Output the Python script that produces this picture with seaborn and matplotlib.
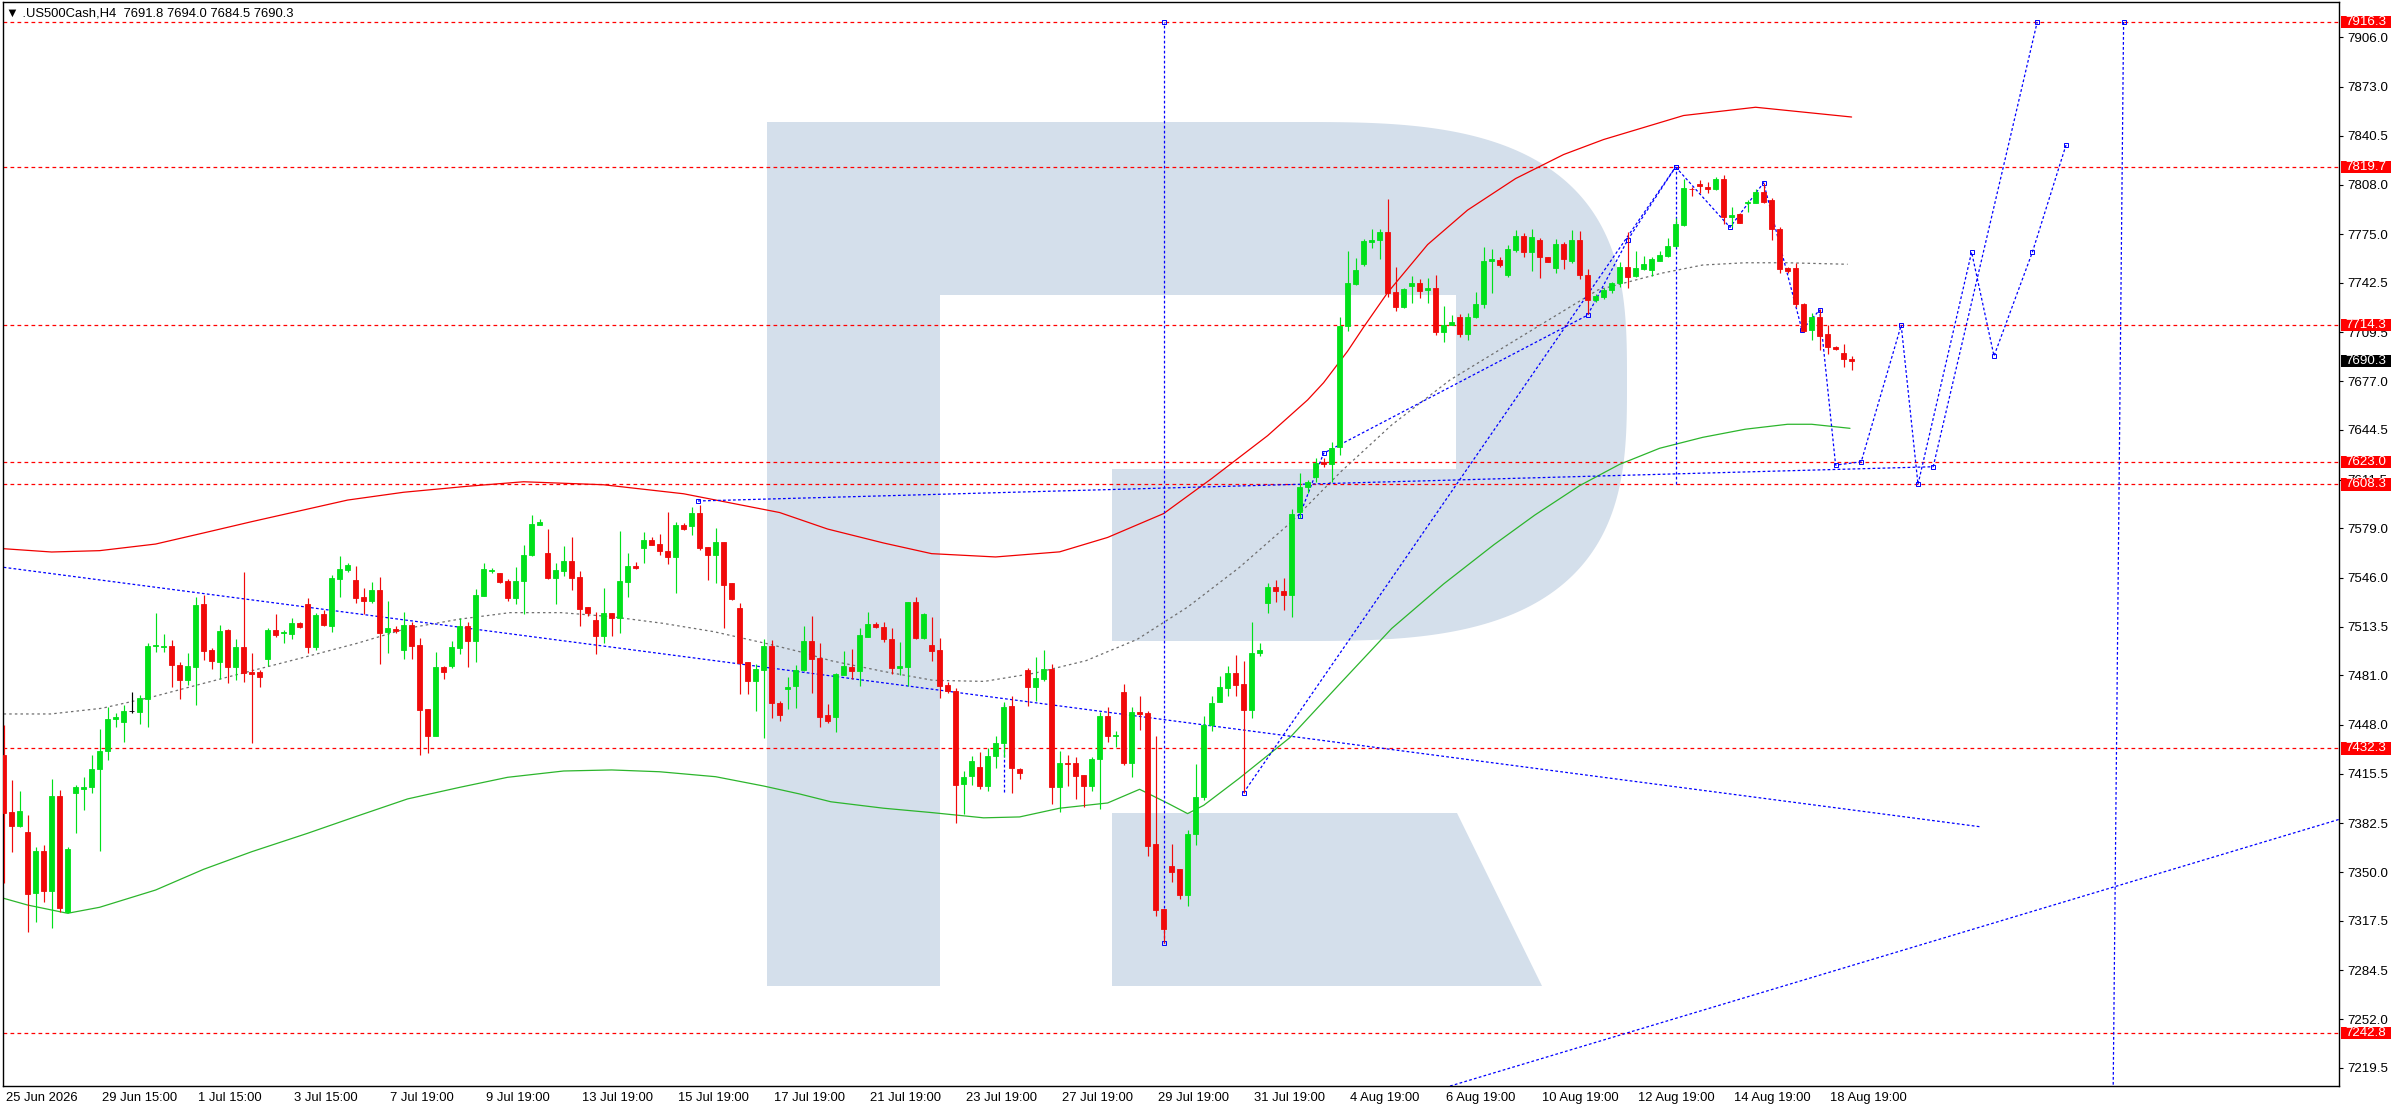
import numpy as np
import pandas as pd
import matplotlib
matplotlib.use("Agg")
import matplotlib.pyplot as plt
import matplotlib.transforms as mtrans
from matplotlib.patches import Polygon, Rectangle
import seaborn as sns

# ---------------- data ----------------
opens = [7428.0,7389.8,7380.9,7376.7,7336.3,7364.3,7337.6,7400.9,7323.2,7402.4,7405.1,7406.5,7418.4,7430.7,7451.8,7450.2,7457.1,7456.9,7465.5,7500.4,
7499.7,7500.6,7488.0,7478.2,7486.9,7528.6,7498.0,7490.2,7511.3,7486.9,7500.2,7483.1,7483.3,7492.2,7511.3,7509.1,7508.8,7515.9,7528.4,7500.2,
7521.9,7514.2,7545.5,7551.5,7544.6,7533.0,7530.8,7537.9,7510.2,7511.9,7498.2,7514.4,7501.1,7458.6,7440.9,7486.4,7487.5,7499.5,7513.9,7503.7,
7534.2,7550.8,7549.0,7543.7,7532.6,7543.7,7561.0,7581.2,7562.4,7546.1,7550.8,7557.3,7546.4,7526.6,7517.9,7507.5,7522.4,7519.1,7543.5,7553.9,
7566.1,7571.2,7568.8,7563.9,7560.1,7581.5,7580.8,7589.5,7566.4,7561.2,7569.9,7542.4,7525.7,7489.7,7477.5,7484.9,7500.8,7462.4,7472.2,7474.2,
7484.4,7503.9,7492.7,7454.7,7453.5,7481.3,7486.8,7483.7,7506.8,7515.1,7513.0,7505.1,7485.6,7486.8,7529.6,7505.6,7501.5,7498.0,7474.7,7470.6,
7408.8,7414.2,7419.9,7407.6,7427.1,7436.1,7460.6,7418.8,7484.4,7473.0,7478.9,7485.4,7406.4,7422.8,7422.3,7414.7,7407.1,7425.4,7454.0,7440.4,
7469.9,7422.3,7456.3,7456.1,7368.8,7325.5,7354.0,7351.7,7335.0,7375.0,7399.9,7448.0,7463.5,7472.3,7482.5,7475.4,7458.2,7495.6,7528.9,7540.1,
7537.2,7534.8,7589.6,7606.7,7613.3,7622.9,7621.6,7632.9,7713.9,7741.5,7754.8,7769.9,7771.0,7776.4,7736.2,7726.2,7740.6,7742.2,7737.7,7739.3,
7710.0,7714.4,7719.5,7708.2,7719.5,7728.4,7757.0,7757.7,7747.7,7764.4,7773.7,7763.3,7771.0,7759.5,7752.2,7768.1,7757.3,7771.0,7747.5,7731.1,
7733.3,7737.7,7742.2,7752.8,7747.0,7751.5,7751.0,7757.0,7760.4,7767.0,7781.0,7805.0,7808.1,7806.6,7805.0,7811.5,7786.6,7788.4,7795.5,7795.9,
7803.2,7797.7,7778.1,7752.2,7752.2,7728.2,7711.1,7719.9,7708.2,7699.5,7696.0,7691.8]
highs = [7448.0,7411.3,7404.0,7388.0,7366.9,7368.0,7412.0,7404.7,7366.9,7408.0,7413.6,7428.0,7445.1,7460.2,7455.8,7461.3,7470.2,7468.0,7502.4,7522.4,
7508.6,7504.6,7490.2,7495.7,7533.5,7534.6,7499.1,7514.4,7512.2,7505.1,7550.1,7496.2,7484.6,7512.8,7521.7,7511.3,7519.1,7516.4,7532.4,7522.8,
7524.6,7547.7,7560.6,7556.1,7553.9,7539.0,7543.0,7546.4,7530.8,7513.9,7523.0,7516.8,7505.7,7458.6,7496.4,7487.3,7503.9,7519.1,7516.8,7538.4,
7555.7,7552.8,7549.5,7545.0,7553.5,7567.7,7587.9,7585.0,7578.6,7555.7,7567.2,7573.5,7550.6,7526.8,7523.0,7539.5,7522.8,7577.2,7562.8,7556.6,
7576.8,7573.5,7575.0,7590.1,7583.5,7582.8,7593.5,7594.6,7566.8,7579.0,7570.1,7542.8,7529.0,7490.2,7488.6,7505.1,7504.6,7464.0,7480.2,7488.0,
7514.1,7520.6,7502.7,7461.8,7482.5,7497.3,7498.5,7512.7,7522.9,7516.3,7516.3,7512.3,7503.2,7530.1,7532.9,7522.5,7520.1,7505.6,7476.6,7472.3,
7417.1,7427.3,7430.2,7432.5,7440.4,7463.0,7467.0,7419.0,7486.1,7493.2,7498.0,7488.5,7430.6,7427.8,7426.6,7414.7,7426.6,7456.8,7459.9,7444.0,
7475.4,7459.9,7467.0,7457.5,7440.9,7325.5,7368.8,7351.7,7377.8,7421.8,7454.0,7467.5,7480.6,7487.3,7494.4,7490.8,7516.5,7502.7,7542.5,7544.4,
7546.0,7591.9,7615.7,7611.1,7625.6,7625.6,7636.4,7719.9,7763.7,7758.8,7771.7,7778.1,7778.4,7798.4,7752.8,7738.8,7747.0,7744.8,7745.5,7747.7,
7727.1,7721.1,7721.7,7722.2,7736.2,7766.1,7764.8,7759.9,7767.7,7777.7,7775.5,7778.1,7772.1,7759.9,7771.5,7769.9,7777.7,7777.3,7751.7,7735.1,
7739.3,7743.3,7756.6,7776.6,7763.7,7760.4,7759.9,7763.9,7772.1,7785.5,7811.5,7806.1,7811.0,7809.5,7813.2,7814.3,7793.2,7788.8,7797.7,7804.8,
7808.8,7798.8,7779.9,7753.3,7755.5,7728.8,7722.6,7724.8,7714.4,7700.4,7701.7,7694.0]
lows = [7342.5,7363.6,7380.3,7310.3,7317.0,7329.8,7312.9,7323.6,7322.5,7375.8,7391.3,7402.4,7364.3,7424.7,7446.9,7436.9,7455.8,7448.6,7446.9,7496.8,
7496.8,7473.5,7465.3,7474.6,7461.3,7491.3,7485.1,7478.4,7476.2,7478.0,7476.9,7435.8,7473.5,7487.5,7506.8,7502.4,7505.1,7512.4,7496.2,7497.9,
7514.0,7510.2,7533.5,7550.1,7529.5,7521.9,7529.5,7488.6,7496.2,7509.1,7491.9,7492.2,7428.0,7429.5,7440.9,7478.4,7486.0,7495.3,7486.9,7490.0,
7533.9,7549.0,7542.4,7530.4,7528.6,7521.7,7560.6,7581.2,7545.3,7528.6,7547.3,7537.9,7513.9,7520.6,7495.3,7502.4,7507.5,7509.1,7533.5,7551.9,
7556.1,7567.9,7561.2,7555.0,7535.7,7577.9,7574.6,7564.6,7544.6,7542.4,7512.8,7531.3,7468.6,7468.6,7457.3,7439.5,7452.4,7450.9,7458.4,7459.1,
7483.7,7469.4,7446.3,7449.2,7443.3,7481.3,7478.9,7473.7,7506.8,7512.3,7503.4,7482.0,7481.3,7473.7,7505.1,7505.1,7490.8,7465.9,7469.4,7382.6,
7388.5,7408.1,7405.0,7404.0,7419.5,7426.6,7402.8,7412.3,7460.4,7464.2,7477.3,7395.2,7389.7,7407.6,7398.5,7393.3,7404.0,7392.1,7436.6,7433.3,
7421.4,7413.5,7444.4,7360.5,7320.7,7302.9,7343.3,7331.9,7327.2,7368.3,7398.1,7443.7,7463.5,7467.5,7467.5,7402.8,7452.3,7493.7,7522.5,7529.6,
7524.6,7520.1,7586.0,7602.2,7610.0,7619.6,7609.6,7627.8,7710.4,7741.0,7753.9,7765.9,7758.2,7732.8,7723.9,7725.5,7729.3,7732.2,7729.3,7707.7,
7703.3,7714.4,7706.2,7704.4,7718.8,7725.5,7735.5,7753.3,7746.6,7763.3,7759.5,7750.6,7745.9,7756.2,7749.3,7751.7,7755.5,7744.8,7721.7,7729.9,
7731.7,7735.5,7739.9,7738.8,7746.2,7751.0,7747.0,7757.0,7759.9,7766.6,7780.4,7800.6,7802.1,7802.1,7804.3,7781.7,7779.9,7782.1,7789.9,7795.5,
7795.5,7771.0,7749.3,7749.3,7726.6,7709.9,7704.4,7697.7,7695.1,7697.7,7686.6,7684.5]
closes = [7389.6,7380.9,7390.7,7335.4,7364.3,7337.6,7400.9,7326.3,7365.4,7406.5,7406.9,7418.4,7430.7,7452.0,7453.3,7457.3,7457.1,7465.9,7500.6,7501.1,
7500.6,7488.2,7478.2,7487.3,7527.9,7497.5,7490.8,7510.6,7486.9,7500.2,7482.9,7482.0,7480.2,7511.3,7508.2,7509.7,7515.9,7513.5,7500.2,7521.3,
7514.8,7545.9,7551.7,7554.6,7532.8,7530.8,7537.9,7509.5,7512.6,7510.8,7514.4,7500.8,7458.2,7440.9,7486.4,7483.5,7499.9,7513.9,7503.7,7534.6,
7551.7,7551.5,7543.5,7532.8,7543.7,7561.0,7581.9,7583.2,7546.1,7551.3,7557.3,7546.1,7525.3,7522.4,7507.5,7522.4,7519.5,7543.9,7553.9,7552.6,
7571.2,7568.1,7563.9,7560.1,7581.2,7578.4,7589.5,7566.1,7561.2,7569.9,7541.5,7531.9,7489.5,7477.5,7485.3,7500.6,7462.4,7454.6,7473.5,7484.6,
7503.9,7492.0,7453.5,7450.4,7481.8,7487.3,7483.7,7508.0,7515.1,7513.0,7505.1,7485.6,7487.3,7529.6,7505.6,7521.8,7497.3,7474.2,7470.6,7408.3,
7413.5,7424.2,7407.6,7427.3,7436.1,7459.9,7419.0,7415.9,7473.0,7479.4,7485.4,7406.4,7422.8,7421.8,7414.2,7407.1,7425.4,7454.0,7440.4,7441.4,
7422.3,7456.8,7455.6,7367.6,7324.8,7311.9,7350.0,7335.0,7375.5,7399.9,7448.0,7462.8,7473.0,7482.5,7474.9,7458.2,7496.1,7498.0,7539.6,7537.2,
7534.8,7588.8,7606.7,7609.8,7622.2,7621.8,7632.7,7713.9,7742.2,7751.0,7770.6,7771.0,7776.6,7735.9,7726.6,7738.4,7742.2,7737.3,7739.3,7710.0,
7714.4,7716.6,7708.2,7719.5,7728.4,7757.0,7758.4,7754.4,7764.8,7773.7,7763.3,7772.8,7759.5,7756.6,7768.1,7758.2,7771.0,7747.5,7731.1,7733.9,
7737.7,7742.2,7752.8,7746.6,7752.2,7754.8,7758.2,7760.8,7767.0,7781.7,7805.5,7804.8,7807.0,7805.2,7811.5,7786.6,7787.7,7782.6,7796.1,7803.2,
7796.6,7778.1,7751.5,7750.6,7728.2,7710.6,7719.9,7707.3,7699.9,7698.4,7691.5,7690.3]

x_tick_bars = [0, 12, 24, 36, 48, 60, 72, 84, 96, 108, 120, 132, 144, 156, 168, 180, 192, 204, 216, 228]
x_tick_labels = ["25 Jun 2026", "29 Jun 15:00", "1 Jul 15:00", "3 Jul 15:00", "7 Jul 19:00", "9 Jul 19:00",
                 "13 Jul 19:00", "15 Jul 19:00", "17 Jul 19:00", "21 Jul 19:00", "23 Jul 19:00", "27 Jul 19:00",
                 "29 Jul 19:00", "31 Jul 19:00", "4 Aug 19:00", "6 Aug 19:00", "10 Aug 19:00", "12 Aug 19:00",
                 "14 Aug 19:00", "18 Aug 19:00"]
y_ticks = [7906.0, 7873.0, 7840.5, 7808.0, 7775.0, 7742.5, 7709.5, 7677.0, 7644.5, 7611.5, 7579.0,
           7546.0, 7513.5, 7481.0, 7448.0, 7415.5, 7382.5, 7350.0, 7317.5, 7284.5, 7252.0, 7219.5]
levels = [7916.3, 7819.7, 7714.3, 7623.0, 7608.3, 7432.3, 7242.8]
last_price = 7690.3
title_text = "\u25bc .US500Cash,H4  7691.8 7694.0 7684.5 7690.3"

# envelope indicator lines (bar index, price)
upper_bars = [0, 6, 12, 19, 25, 31, 38, 43, 50, 58, 65, 75, 85, 97, 103, 110, 116, 124, 132, 138, 145, 151,
              158, 163, 165, 168, 170, 173, 178, 183, 189, 195, 200, 210, 219, 231]
upper_vals = [7565.4, 7563.2, 7564.1, 7568.5, 7575.9, 7583.4, 7591.8, 7597.8, 7603.0, 7607.0, 7610.0, 7608.0,
              7602.0, 7589.5, 7578.5, 7569.2, 7562.1, 7559.9, 7563.3, 7572.9, 7588.8, 7612.1, 7640.7, 7664.5,
              7676.0, 7697.0, 7713.0, 7736.0, 7768.0, 7791.0, 7812.0, 7828.0, 7838.0, 7854.0, 7859.5, 7853.0]
lower_bars = [0, 3, 8, 12, 19, 25, 31, 38, 44, 50.5, 57, 63, 70, 76, 82, 89, 95, 99.5, 103.4, 110, 116, 122.5,
              127, 132, 138, 142, 145.6, 148, 150, 154.4, 160.8, 167, 173.5, 180, 186.3, 191.4, 197, 202, 207,
              212.4, 217.7, 223, 226, 230.8]
lower_vals = [7332.5, 7328.0, 7322.5, 7326.5, 7338.0, 7351.8, 7363.5, 7375.8, 7386.9, 7398.7, 7406.4, 7413.1,
              7417.3, 7418.0, 7416.8, 7413.5, 7407.3, 7402.0, 7396.8, 7392.5, 7389.6, 7386.1, 7386.7, 7392.5,
              7396.0, 7405.1, 7395.6, 7388.9, 7394.4, 7412.2, 7439.6, 7475.2, 7512.2, 7541.9, 7568.1, 7587.8,
              7607.4, 7621.6, 7632.3, 7639.6, 7645.0, 7648.3, 7648.3, 7645.6]
mid_bars = [0, 5.9, 12.3, 18.7, 25, 31.4, 37.8, 44.2, 50.5, 56.9, 63.3, 69.7, 76, 82.4, 88.8, 95.2, 99.5,
            103.4, 110, 116.2, 122.6, 128.9, 135.3, 141.7, 148, 154.4, 160.8, 167.2, 173.5, 180.8, 191.4,
            199.3, 207.2, 212.4, 217.7, 222.9, 230.5]
mid_vals = [7455.3, 7455.3, 7459.1, 7466.8, 7475.7, 7484.6, 7493.4, 7502.4, 7512.4, 7518.4, 7522.8, 7522.8,
            7520.1, 7515.7, 7510.1, 7502.4, 7496.8, 7490.8, 7483.6, 7477.7, 7477.0, 7482.5, 7490.8, 7505.0,
            7526.5, 7552.6, 7582.4, 7616.9, 7647.8, 7677.8, 7712.2, 7737.8, 7748.9, 7754.4, 7755.9, 7755.9,
            7754.9]

# analyst drawings (bar index, price)
trend_down_bars, trend_down_vals = [0, 247], [7553.0, 7380.2]
trend_up_bars, trend_up_vals = [180.8, 291.9], [7207.4, 7385.0]
flat_bars, flat_vals = [86.8, 241.2], [7597.2, 7620.0]
vert1_bars, vert1_vals = [145, 145], [7302.9, 7916.3]
vert2_bars, vert2_vals = [209, 209], [7608.3, 7819.7]
vert3_bars, vert3_vals = [265.0, 263.7], [7916.3, 7207.4]
small_vert_bars, small_vert_vals = [125, 125], [7403.0, 7463.0]
rise_bars, rise_vals = [155, 209], [7402.8, 7819.7]
wedge_bars = [162, 165, 198, 203, 209]
wedge_vals = [7587.5, 7629.0, 7721.0, 7771.0, 7819.7]
path_bars = [209, 215.8, 220, 224.8, 227, 229, 232.2, 237.2, 239.3, 246, 248.8, 253.6, 257.8]
path_vals = [7819.7, 7779.5, 7809.2, 7711.1, 7724.4, 7621.1, 7623.3, 7714.3, 7608.3, 7763.0, 7693.8, 7763.0, 7834.3]
target_bars, target_vals = [241.2, 254.2], [7620.0, 7916.3]

# ---------------- figure ----------------
W, H = 2396, 1110
sns.set_theme(style="white")
plt.rcParams['font.family'] = ['Liberation Sans', 'DejaVu Sans']
fig = plt.figure(figsize=(W / 100, H / 100), dpi=100)
fig.patch.set_facecolor('white')
L, R, T, B = 3, 2339, 2, 1086
ax = fig.add_axes([L / W, (H - B) / H, (R - L) / W, (B - T) / H])
ax.set_facecolor('white')

px_to_bar = lambda px: (px - 3.6) / 8.0
ax.set_xlim(px_to_bar(L), px_to_bar(R))
scale = 1.501
ax.set_ylim(7916.3 - (B - 22) / scale, 7916.3 + (22 - T) / scale)

# watermark logo, in figure pixels (top-left origin)
pix = mtrans.Affine2D().scale(1 / W, -1 / H).translate(0, 1) + fig.transFigure
wm = '#d4dfeb'
stem = Polygon([(767, 122), (940, 122), (940, 986), (767, 986)], closed=True, transform=pix, fc=wm, ec='none', zorder=0.5)
cx, cy, a, b, n = 1297, 381.5, 330, 259.5, 3.0
t = np.linspace(-np.pi / 2, np.pi / 2, 200)
arc_x = cx + a * np.sign(np.cos(t)) * np.abs(np.cos(t)) ** (2 / n)
arc_y = cy + b * np.sign(np.sin(t)) * np.abs(np.sin(t)) ** (2 / n)
bowl_pts = [(940, 122)] + list(zip(arc_x, arc_y)) + [(1112, 641), (1112, 469), (1456, 469), (1456, 295), (940, 295)]
bowl = Polygon(bowl_pts, closed=True, transform=pix, fc=wm, ec='none', zorder=0.5)
leg = Polygon([(1112, 813), (1457, 813), (1542, 986), (1112, 986)], closed=True, transform=pix, fc=wm, ec='none', zorder=0.5)
for p in (stem, bowl, leg):
    ax.add_patch(p)

# horizontal level lines
for lv in levels:
    ax.axhline(lv, color='#ff0000', lw=0.9, dashes=(3.0, 2.6), zorder=2)

# indicator lines via seaborn
sns.lineplot(x=upper_bars, y=upper_vals, color='#f00000', lw=0.9, ax=ax, sort=False, estimator=None, zorder=2.2)
sns.lineplot(x=lower_bars, y=lower_vals, color='#2cb52c', lw=0.9, ax=ax, sort=False, estimator=None, zorder=2.2)
mid_line = sns.lineplot(x=mid_bars, y=mid_vals, color='#6e6e6e', lw=0.9, ax=ax, sort=False, estimator=None, zorder=2.2)
mid_line.lines[-1].set_dashes((2.0, 2.5))

# blue drawings
blue = '#0000ff'
bkw = dict(color=blue, lw=0.9, dashes=(2.2, 1.8), zorder=2.4)
for xs, ys in [(trend_down_bars, trend_down_vals), (trend_up_bars, trend_up_vals), (flat_bars, flat_vals),
               (vert1_bars, vert1_vals), (vert2_bars, vert2_vals), (vert3_bars, vert3_vals),
               (small_vert_bars, small_vert_vals), (rise_bars, rise_vals), (wedge_bars, wedge_vals),
               (path_bars, path_vals), (target_bars, target_vals)]:
    ax.plot(xs, ys, **bkw)
mk = dict(ls='none', marker='s', ms=2.6, mfc='none', mec=blue, mew=0.7, zorder=2.5)
ax.plot(path_bars, path_vals, **mk)
ax.plot(wedge_bars, wedge_vals, **mk)
ax.plot([vert1_bars[0], vert1_bars[1], rise_bars[0], flat_bars[0], flat_bars[1], target_bars[1], vert3_bars[0]],
        [vert1_vals[0], vert1_vals[1], rise_vals[0], flat_vals[0], flat_vals[1], target_vals[1], vert3_vals[0]], **mk)

# candles
df = pd.DataFrame({'o': opens, 'h': highs, 'l': lows, 'c': closes})
df['bar'] = np.arange(len(df))
cols = np.where(df.c > df.o, '#00e01a', np.where(df.c < df.o, '#f00a0a', '#000000'))
ax.vlines(df.bar, df.l, df.h, colors=cols, lw=0.85, zorder=3)
ax.bar(df.bar, df.c - df.o, bottom=df.o, width=0.56, color=cols, edgecolor=cols, lw=0.6, zorder=4)

# axes styling
for s in ax.spines.values():
    s.set_color('black')
    s.set_linewidth(1.0)
    s.set_visible(True)
ax.grid(False)
ax.yaxis.tick_right()
ax.set_yticks(y_ticks)
ax.set_yticklabels([f"{v:.1f}" for v in y_ticks])
ax.tick_params(axis='y', direction='out', length=3, width=0.8, pad=3, labelsize=9.6, colors='black',
               left=False, right=True)
ax.set_xticks(x_tick_bars)
ax.set_xticklabels(x_tick_labels)
ax.tick_params(axis='x', direction='out', length=3, width=0.8, pad=1.5, labelsize=9.4, colors='black')
offs = mtrans.ScaledTranslation(2 / 100, 0, fig.dpi_scale_trans)
for lab in ax.get_xticklabels():
    lab.set_ha('left')
    lab.set_transform(lab.get_transform() + offs)
ax.set_xlabel('')
ax.set_ylabel('')

# price label boxes on right axis
blend = mtrans.blended_transform_factory(fig.transFigure, ax.transData)
half = 6.2 / scale
for lv in levels:
    ax.add_patch(Rectangle((2341 / W, lv - half), 50 / W, 2 * half, transform=blend, fc='#ff0000', ec='none',
                           clip_on=False, zorder=10))
    ax.text(2345 / W, lv, f"{lv:.1f}", transform=blend, color='white', fontsize=9.6, va='center', ha='left',
            clip_on=False, zorder=11)
ax.add_patch(Rectangle((2341 / W, last_price - half), 50 / W, 2 * half, transform=blend, fc='#000000', ec='none',
                       clip_on=False, zorder=10))
ax.text(2345 / W, last_price, f"{last_price:.1f}", transform=blend, color='white', fontsize=9.6, va='center',
        ha='left', clip_on=False, zorder=11)

fig.text(6 / W, 1 - 13.5 / H, title_text, fontsize=9.4, color='black', va='center', ha='left')

fig.savefig('out.png', dpi=100)
